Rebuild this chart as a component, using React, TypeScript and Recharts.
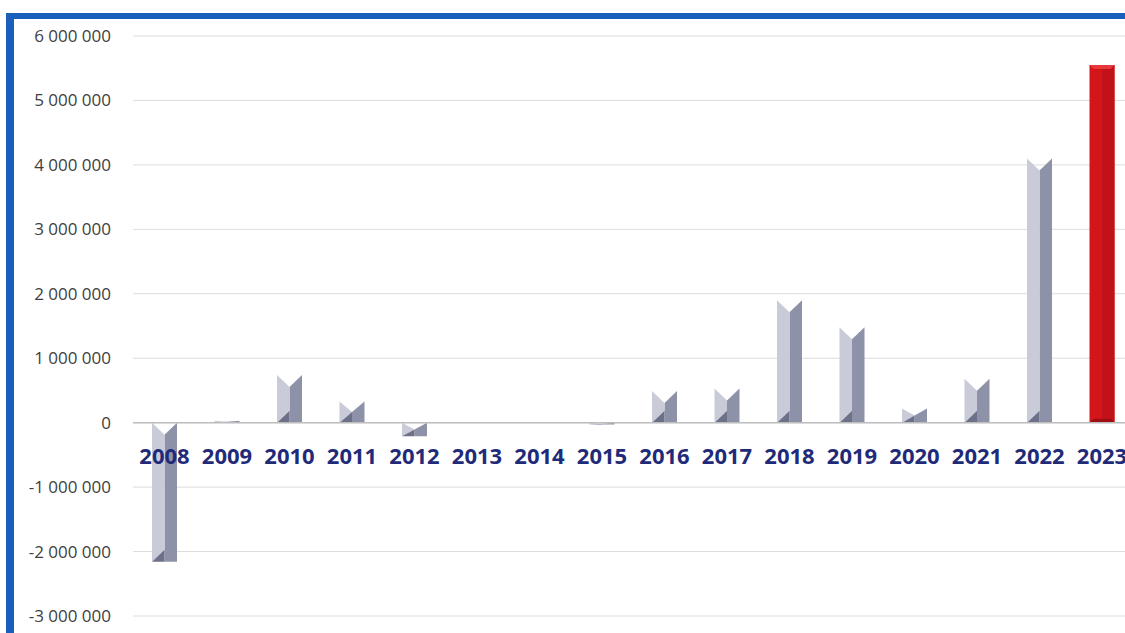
import React from 'react';
import { BarChart, Bar, XAxis, YAxis, CartesianGrid, ReferenceLine, LabelList } from 'recharts';

const years = ['2008', '2009', '2010', '2011', '2012', '2013', '2014', '2015', '2016', '2017', '2018', '2019', '2020', '2021', '2022', '2023'];
const values = [-2160000, 30000, 740000, 330000, -210000, 0, 0, -30000, 490000, 530000, 1900000, 1480000, 220000, 680000, 4100000, 5550000];
const yTicks = [-3000000, -2000000, -1000000, 0, 1000000, 2000000, 3000000, 4000000, 5000000, 6000000];
const highlightYear = '2023';

const data = years.map((year, i) => ({ year, value: values[i] }));

const fmt = (v: number) => {
  const s = Math.abs(v).toString().replace(/\B(?=(\d{3})+(?!\d))/g, ' ');
  return v < 0 ? `-${s}` : s;
};

// bevelled "3D" bar: light left half, dark right half, V-notch top, dark wedge at the foot
function BevelBar(props: any) {
  const { x, y, width, height, payload } = props;
  if (x == null || y == null) return null;
  const top = Math.min(y, y + height);
  const bot = Math.max(y, y + height);
  const h = bot - top;
  const w = width;
  const cx = x + w / 2;
  if (payload.year === highlightYear) {
    const b = Math.min(4, h / 2);
    return (
      <g>
        <rect x={x} y={top} width={w} height={h} fill="#d4161b" />
        <rect x={cx} y={top} width={w / 2} height={h} fill="#c01217" />
        <polygon points={`${x},${top} ${x + w},${top} ${x + w - b},${top + b} ${x + b},${top + b}`} fill="#e8383c" />
        <polygon points={`${x},${bot} ${x + b},${bot - b} ${x + w - b},${bot - b} ${x + w},${bot}`} fill="#9e0e12" />
      </g>
    );
  }
  if (h < 0.5) return null;
  const d = Math.min(w * 0.48, h / 2);
  return (
    <g>
      <polygon points={`${cx},${top + d} ${x + w},${top} ${x + w},${bot} ${cx},${bot}`} fill="#8d92a8" />
      <polygon points={`${x},${top} ${cx},${top + d} ${cx},${bot - d} ${x},${bot}`} fill="#c9ccd8" />
      <polygon points={`${x},${bot} ${cx},${bot - d} ${cx},${bot}`} fill="#6c7189" />
    </g>
  );
}

function YearLabel(props: any) {
  const vb = props.viewBox ?? props;
  const { x, y, width, height } = vb;
  const v = values[props.index] ?? 0;
  const zeroY = v >= 0 ? Math.max(y, y + height) : Math.min(y, y + height);
  return (
    <text
      x={x + width / 2}
      y={zeroY + 41}
      textAnchor="middle"
      fill="#1f2b78"
      fontSize={22}
      fontWeight={700}
      fontFamily="'Open Sans', sans-serif"
    >
      {props.value}
    </text>
  );
}

export default function App() {
  return (
    <div style={{ position: 'fixed', left: 0, top: 0, width: 1125, height: 633, overflow: 'hidden', background: '#fff' }}>
      <div
        style={{
          position: 'absolute',
          left: 6,
          top: 13,
          width: 1200,
          height: 700,
          borderTop: '6px solid #1b5fbd',
          borderLeft: '8px solid #1b5fbd',
        }}
      />
      <div style={{ position: 'absolute', left: 0, top: 0 }}>
        <BarChart
          width={1133}
          height={640}
          data={data}
          margin={{ top: 36, right: 0, bottom: 24, left: 0 }}
          barSize={25}
        >
          <CartesianGrid vertical={false} stroke="#dcdcdc" />
          <XAxis dataKey="year" hide />
          <YAxis
            width={133}
            domain={[-3000000, 6000000]}
            ticks={yTicks}
            tickFormatter={fmt}
            axisLine={false}
            tickLine={false}
            tickSize={0}
            tickMargin={22}
            tick={{ fill: '#404040', fontSize: 17, fontFamily: "'Open Sans', sans-serif" }}
          />
          <ReferenceLine y={0} stroke="#bdbdbd" strokeWidth={1.5} />
          <Bar dataKey="value" shape={BevelBar} isAnimationActive={false}>
            <LabelList dataKey="year" content={YearLabel} />
          </Bar>
        </BarChart>
      </div>
    </div>
  );
}
